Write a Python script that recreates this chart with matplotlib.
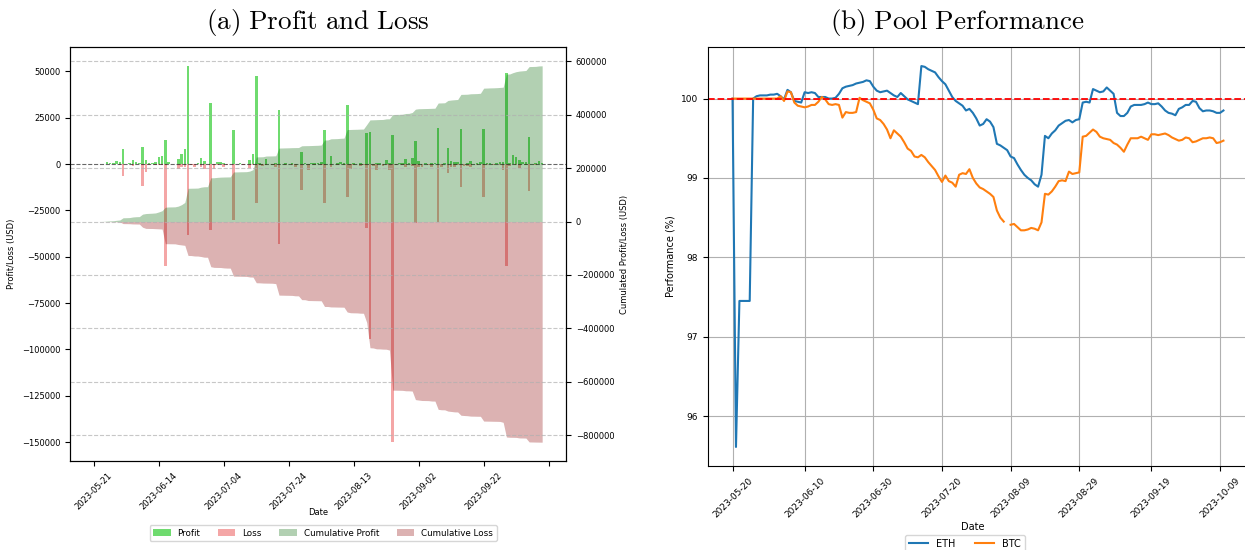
import numpy as np
import pandas as pd
import matplotlib
matplotlib.use("Agg")
import matplotlib.pyplot as plt
import matplotlib.dates as mdates

plt.rcParams['mathtext.fontset'] = 'cm'

# daily realised profit / loss per trading day (USD)
profit = [
    0, 0, 200, 300, 1000, 800, 500, 1800, 1200, 8200,
    300, 500, 2200, 1000, 400, 9200, 2200, 800, 600, 1000,
    3800, 4500, 13000, 1000, 200, 300, 2700, 5500, 8200, 53000,
    300, 200, 400, 3300, 1600, 300, 33200, 300, 1300, 900,
    400, 300, 200, 18500, 200, 400, 200, 300, 2200, 5500,
    47400, 400, 300, 2700, 300, 200, 500, 28900, 300, 400,
    300, 500, 200, 300, 6500, 400, 200, 400, 500, 400,
    1100, 18500, 300, 4400, 300, 500, 1100, 600, 32100, 300,
    500, 300, 500, 300, 16900, 17400, 300, 500, 500, 300,
    2200, 400, 15800, 300, 400, 500, 2700, 500, 3300, 12500,
    1600, 300, 400, 300, 500, 400, 19600, 300, 500, 8700,
    1600, 1100, 900, 19100, 300, 400, 1600, 300, 500, 1100,
    19100, 500, 500, 300, 500, 900, 1000, 49000, 400, 4900,
    3800, 2200, 1100, 1100, 14700, 300, 400, 1600, 500,
]
loss = [
    0, 0, -100, -200, -200, -200, -200, -200, -300, -6400,
    -200, -200, -900, -200, -200, -11800, -4400, -300, -200, -600,
    -600, -600, -55000, -200, -200, -200, -2500, -1500, -1600, -38000,
    -300, -1600, -200, -1800, -2500, -200, -35400, -2500, -300, -200,
    -1500, -700, -200, -30000, -200, -200, -300, -200, -2200, -400,
    -21200, -300, -800, -300, -200, -300, -1500, -43000, -200, -300,
    -200, -300, -1500, -200, -14200, -200, -3100, -200, -300, -200,
    -300, -21200, -200, -1600, -200, -300, -200, -300, -18000, -2700,
    -400, -200, -1100, -300, -34500, -94600, -800, -3300, -200, -900,
    -300, -3300, -150000, -300, -200, -300, -1600, -200, -800, -32000,
    -1800, -1600, -200, -300, -1500, -200, -31000, -1500, -200, -4700,
    -1500, -1500, -300, -12300, -1000, -800, -1500, -200, -300, -200,
    -17800, -300, -200, -300, -200, -400, -3300, -55000, -1000, -200,
    -300, -2000, -200, -300, -14500, -200, -300, -200, -200,
]
pl_tick_labels = ['2023-05-21', '2023-06-14', '2023-07-04', '2023-07-24',
                  '2023-08-13', '2023-09-02', '2023-09-22', '']

# pool performance relative to holding (%), one value per day from 2023-05-20
eth = [
    100.00, 95.61, 97.45, 97.45, 97.45, 97.45, 100.00, 100.03, 100.04, 100.04,
    100.04, 100.05, 100.05, 100.06, 100.03, 99.99, 100.11, 100.08, 99.97, 99.96,
    99.95, 100.08, 100.07, 100.08, 100.07, 100.02, 100.02, 100.02, 100.00, 100.00,
    100.01, 100.06, 100.13, 100.15, 100.16, 100.17, 100.19, 100.20, 100.21, 100.23,
    100.22, 100.15, 100.10, 100.08, 100.09, 100.10, 100.07, 100.04, 100.02, 100.07,
    100.03, 99.99, 99.97, 99.95, 99.93, 100.41, 100.40, 100.37, 100.35, 100.33,
    100.27, 100.22, 100.18, 100.10, 100.02, 99.97, 99.94, 99.91, 99.85, 99.87,
    99.82, 99.75, 99.66, 99.68, 99.74, 99.71, 99.64, 99.43, 99.41, 99.38,
    99.35, 99.27, 99.25, 99.17, 99.10, 99.04, 99.00, 98.97, 98.92, 98.89,
    99.04, 99.53, 99.50, 99.56, 99.60, 99.66, 99.69, 99.72, 99.73, 99.70,
    99.73, 99.74, 99.95, 99.96, 99.95, 100.12, 100.10, 100.08, 100.09, 100.14,
    100.10, 100.06, 99.82, 99.78, 99.78, 99.82, 99.90, 99.92, 99.92, 99.92,
    99.93, 99.95, 99.93, 99.93, 99.94, 99.90, 99.85, 99.82, 99.81, 99.79,
    99.87, 99.89, 99.92, 99.92, 99.97, 99.96, 99.88, 99.84, 99.85, 99.85,
    99.84, 99.82, 99.82, 99.85,
]
btc = [
    100.00, 100.00, 100.00, 100.00, 100.00, 100.00, 100.00, 100.00, 100.00, 100.00,
    100.00, 100.00, 100.00, 100.00, 100.03, 99.97, 100.09, 100.08, 99.95, 99.91,
    99.90, 99.89, 99.90, 99.92, 99.92, 99.96, 100.02, 99.99, 99.93, 99.92,
    99.93, 99.92, 99.76, 99.83, 99.82, 99.82, 99.83, 100.01, 99.98, 99.96,
    99.94, 99.86, 99.75, 99.73, 99.68, 99.61, 99.50, 99.60, 99.56, 99.52,
    99.45, 99.37, 99.34, 99.27, 99.26, 99.29, 99.26, 99.20, 99.15, 99.10,
    99.02, 98.95, 99.03, 98.96, 98.94, 98.89, 99.04, 99.06, 99.05, 99.11,
    99.00, 98.93, 98.88, 98.86, 98.83, 98.80, 98.76, 98.59, 98.50, 98.45,
    np.nan, 98.41, 98.42, 98.38, 98.34, 98.34, 98.35, 98.37, 98.36, 98.34,
    98.44, 98.80, 98.79, 98.83, 98.89, 98.96, 98.97, 98.96, 99.08, 99.05,
    99.06, 99.07, 99.52, 99.53, 99.57, 99.61, 99.58, 99.52, 99.50, 99.49,
    99.48, 99.44, 99.42, 99.38, 99.33, 99.42, 99.50, 99.50, 99.50, 99.52,
    99.50, 99.48, 99.55, 99.55, 99.54, 99.55, 99.56, 99.54, 99.51, 99.49,
    99.47, 99.48, 99.51, 99.50, 99.45, 99.46, 99.48, 99.50, 99.50, 99.51,
    99.50, 99.44, 99.45, 99.47,
]
perf_ticks = ['2023-05-20', '2023-06-10', '2023-06-30', '2023-07-20',
              '2023-08-09', '2023-08-29', '2023-09-19', '2023-10-09']

W, H = 1245, 550
fig = plt.figure(figsize=(W / 100, H / 100), dpi=100)

# ---- (a) profit and loss ----
ax1 = fig.add_axes([70 / W, 1 - 461 / H, 496 / W, 414 / H])
x = np.arange(len(profit))
b1 = ax1.bar(x, profit, width=0.8, color='limegreen', alpha=0.7, label='Profit')
b2 = ax1.bar(x, loss, width=0.8, color='lightcoral', alpha=0.7, label='Loss')
ax1.axhline(0, color='black', linestyle='--', linewidth=0.8, alpha=0.6)
ax1.set_ylabel('Profit/Loss (USD)', fontsize=6)
ax1.set_xlabel('Date', fontsize=6)
ax1.xaxis.set_label_coords(0.5, -0.113)
ax1.set_xticks(np.arange(0, 20 * len(pl_tick_labels), 20))
ax1.set_xticklabels(pl_tick_labels, rotation=45)
ax1.tick_params(labelsize=6)

ax2 = ax1.twinx()
cum_profit = np.cumsum(profit)
cum_loss = np.cumsum(loss)
f1 = ax2.fill_between(x, 0, cum_profit, color='darkgreen', alpha=0.3,
                      linewidth=0, label='Cumulative Profit')
f2 = ax2.fill_between(x, cum_loss, 0, color='darkred', alpha=0.3,
                      linewidth=0, label='Cumulative Loss')
ax2.set_ylabel('Cumulated Profit/Loss (USD)', fontsize=6)
ax2.tick_params(labelsize=6)
ax2.grid(True, linestyle='--', alpha=0.7)
fig.legend([b1, b2, f1, f2], ['Profit', 'Loss', 'Cumulative Profit', 'Cumulative Loss'],
           loc='upper center', bbox_to_anchor=(323 / W, 1 - 525 / H),
           borderaxespad=0, ncol=4, fontsize=6.3)
fig.text(318 / W, 1 - 22 / H, r'$\mathrm{(a)\ Profit\ and\ Loss}$',
         fontsize=19.5, ha='center', va='center')

# ---- (b) pool performance ----
ax3 = fig.add_axes([708 / W, 1 - 466 / H, 540 / W, 419 / H])
days = pd.date_range('2023-05-20', periods=len(eth), freq='D')
ax3.plot(days, eth, label='ETH', linewidth=1.5)
ax3.plot(days, btc, label='BTC', linewidth=1.5)
ax3.axhline(100, color='red', linestyle='--', linewidth=1.3)
ax3.set_xticks(pd.to_datetime(perf_ticks))
ax3.xaxis.set_major_formatter(mdates.DateFormatter('%Y-%m-%d'))
ax3.tick_params(axis='x', labelrotation=45, labelsize=6.5)
ax3.tick_params(axis='y', labelsize=6.5)
ax3.set_yticks([96, 97, 98, 99, 100])
ax3.grid(True)
ax3.set_xlabel('Date', fontsize=7)
ax3.xaxis.set_label_coords(0.49, -0.134)
ax3.set_ylabel('Performance (%)', fontsize=7)
ax3.legend(loc='upper center', bbox_to_anchor=(965 / W, 1 - 535 / H),
           bbox_transform=fig.transFigure, borderaxespad=0, ncol=2, fontsize=7)
fig.text(957 / W, 1 - 22 / H, r'$\mathrm{(b)\ Pool\ Performance}$',
         fontsize=19.5, ha='center', va='center')

fig.savefig('out.png', dpi=100)
